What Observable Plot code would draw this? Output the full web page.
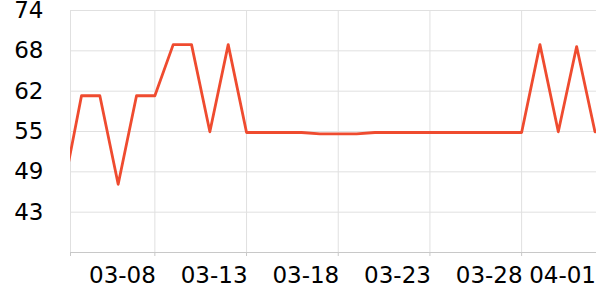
<!DOCTYPE html>
<html><head><meta charset="utf-8">
<script src="https://cdn.jsdelivr.net/npm/d3@7"></script>
<script src="https://cdn.jsdelivr.net/npm/@observablehq/plot@0.6"></script>
<style>body{margin:0;background:#fff}</style>
</head><body><div id="chart"></div>
<script>
const dates = ["2024-03-03","2024-03-04","2024-03-05","2024-03-06","2024-03-07","2024-03-08","2024-03-09","2024-03-10","2024-03-11","2024-03-12","2024-03-13","2024-03-14","2024-03-15","2024-03-16","2024-03-17","2024-03-18","2024-03-19","2024-03-20","2024-03-21","2024-03-22","2024-03-23","2024-03-24","2024-03-25","2024-03-26","2024-03-27","2024-03-28","2024-03-29","2024-03-30","2024-03-31","2024-04-01"];
const values = [46.4,60.8,60.8,47.3,60.8,60.8,68.6,68.6,55.3,68.6,55.2,55.2,55.2,55.2,55.0,55.0,55.0,55.2,55.2,55.2,55.2,55.2,55.2,55.2,55.2,55.2,68.6,55.3,68.3,55.3];
const xTicks = ["2024-03-08","2024-03-13","2024-03-18","2024-03-23","2024-03-28","2024-04-01"];
const xGrid = ["2024-03-03T09:36Z","2024-03-08","2024-03-13","2024-03-18","2024-03-23","2024-03-28"];
const xDomain = ["2024-03-03T09:36Z","2024-04-01T02:00Z"];
const yTicks = [43.05,49.2,55.35,61.5,67.65,73.8];
const yDomain = [36.9,73.8];

const data = dates.map((d,i)=>({date:new Date(d), value:values[i]}));
const toDate = a => a.map(d=>new Date(d));

const chart = Plot.plot({
  width:600, height:300,
  marginLeft:70, marginRight:4, marginTop:10, marginBottom:48,
  style:{fontFamily:"'DejaVu Sans'", fontSize:"23px", color:"#000", background:"#fff", overflow:"visible"},
  x:{type:"utc", domain:toDate(xDomain), label:null},
  y:{domain:yDomain, label:null},
  marks:[
    Plot.gridY(yTicks, {stroke:"#e0e0e0", strokeOpacity:1}),
    Plot.gridX(toDate(xGrid), {stroke:"#e0e0e0", strokeOpacity:1}),
    Plot.axisY(yTicks, {tickSize:0, tickPadding:27, tickFormat:d3.format(".0f"), fontSize:23, fill:"#000", label:null}),
    Plot.axisX(toDate(xGrid), {tickSize:4, tickFormat:()=>"", stroke:"#c8c8c8", label:null}),
    Plot.axisX(toDate(xTicks), {tickSize:0, tickPadding:14, textAnchor:"end", dx:1, tickFormat:d3.utcFormat("%m-%d"), fontSize:23, fill:"#000", label:null}),
    Plot.ruleY([yDomain[0]], {stroke:"#c8c8c8"}),
    Plot.lineY(data, {x:"date", y:"value", stroke:"#ef4b2f", strokeWidth:2.8, clip:true})
  ]
});
document.getElementById("chart").appendChild(chart);
</script>
</body></html>
